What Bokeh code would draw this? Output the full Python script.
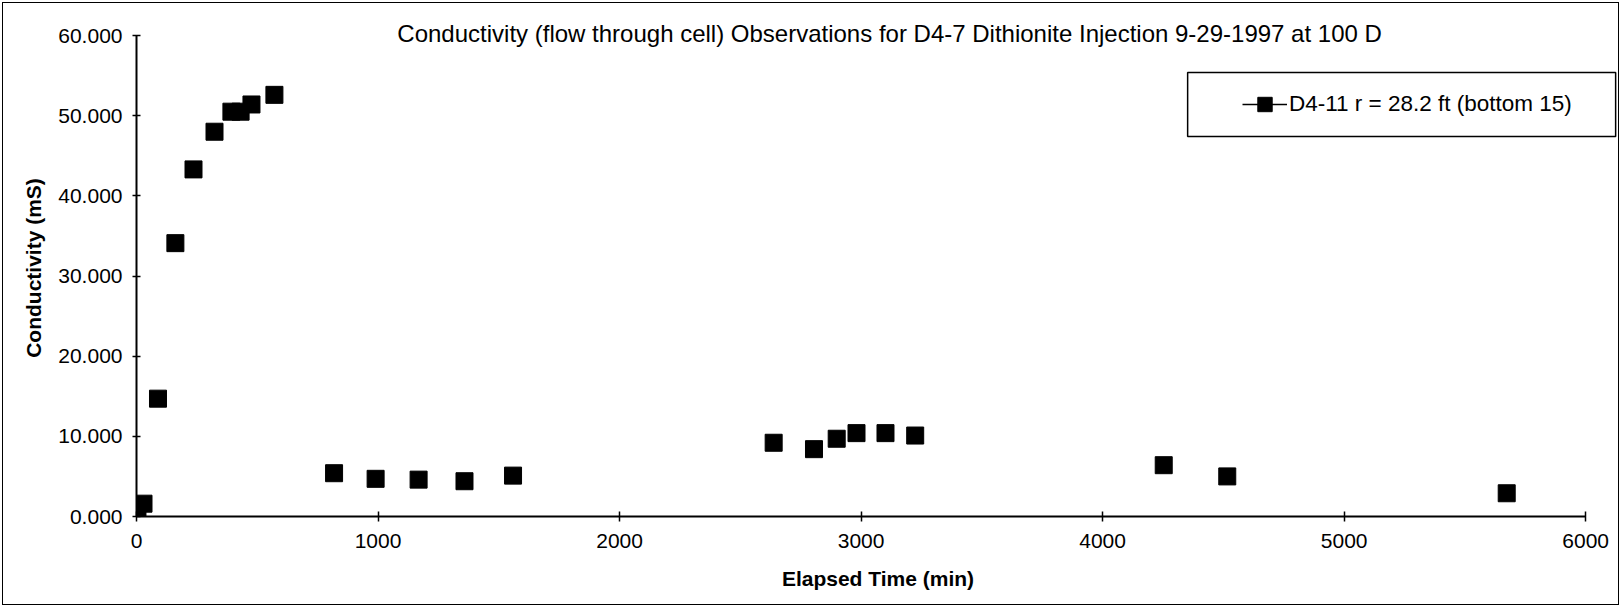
from bokeh.plotting import figure
from bokeh.models import (ColumnDataSource, CDSView, IndexFilter, Legend, LegendItem,
                          Label, NumeralTickFormatter, FixedTicker, Range1d, BoxAnnotation)
from bokeh.embed import file_html
from bokeh.resources import INLINE

title_text = "Conductivity (flow through cell) Observations for D4-7 Dithionite Injection 9-29-1997 at 100 D"
series_label = "D4-11 r = 28.2 ft (bottom 15)"
x_label = "Elapsed Time (min)"
y_label = "Conductivity (mS)"

elapsed_min = [4, 29, 89, 161, 236, 323, 393, 431, 476, 571,
               818, 990, 1168, 1358, 1559,
               2638, 2805, 2899, 2981, 3101, 3224,
               4253, 4516, 5673]
conductivity_ms = [0.5, 1.6, 14.7, 34.1, 43.3, 48.0, 50.5, 50.5, 51.4, 52.6,
                   5.4, 4.7, 4.6, 4.4, 5.1,
                   9.2, 8.4, 9.7, 10.4, 10.4, 10.1,
                   6.4, 5.0, 2.9]
x_ticks = [0, 1000, 2000, 3000, 4000, 5000, 6000]
y_ticks = [0, 10, 20, 30, 40, 50, 60]

FONT = "Liberation Sans"

src = ColumnDataSource(data=dict(t=elapsed_min, c=conductivity_ms))

# ranges extend a little past the last ticks so the title and legend are not clipped;
# the axis lines themselves stop at the last tick (bounds)
p = figure(frame_width=1483, frame_height=497,
           min_border_left=136, min_border_right=2,
           min_border_top=19, min_border_bottom=91,
           x_range=Range1d(x_ticks[0], 6140),
           y_range=Range1d(y_ticks[0], 62),
           output_backend="svg", toolbar_location=None)
p.outline_line_color = None
p.grid.visible = False
p.background_fill_color = None
p.border_fill_color = None
p.styles = {"outline": "1.5px solid black", "outline-offset": "-3px"}

for ax in (p.xaxis[0], p.yaxis[0]):
    ax.axis_line_color = "black"
    ax.axis_line_width = 2
    ax.major_tick_line_color = "black"
    ax.major_tick_line_width = 1.5
    ax.minor_tick_line_color = None
    ax.major_label_text_font = FONT
    ax.major_label_text_font_size = "21px"
    ax.major_label_text_color = "black"
    ax.axis_label_text_font = FONT
    ax.axis_label_text_font_size = "21px"
    ax.axis_label_text_font_style = "bold"
    ax.axis_label_text_color = "black"

p.xaxis.bounds = (x_ticks[0], x_ticks[-1])
p.yaxis.bounds = (y_ticks[0], y_ticks[-1])
p.xaxis.ticker = FixedTicker(ticks=x_ticks)
p.yaxis.ticker = FixedTicker(ticks=y_ticks)
p.yaxis.formatter = NumeralTickFormatter(format="0.000")
p.xaxis.formatter = NumeralTickFormatter(format="0")
p.xaxis.major_tick_in = 5
p.xaxis.major_tick_out = 5
p.yaxis.major_tick_in = 4
p.yaxis.major_tick_out = 4
p.xaxis.major_label_standoff = 12
p.yaxis.major_label_standoff = 10
p.xaxis.axis_label = x_label
p.yaxis.axis_label = y_label
p.xaxis.axis_label_standoff = 16
p.yaxis.axis_label_standoff = 10

# legend frame (drawn separately so it can be wider than the legend's own padding allows)
p.add_layout(BoxAnnotation(left=4352, right=6124, top=55.4, bottom=47.4,
                           fill_color="white", fill_alpha=1.0,
                           line_color="black", line_width=1.5, line_alpha=1.0))

# legend-only line renderer (a single point: nothing visible is drawn on the plot)
line_r = p.line("t", "c", source=src, view=CDSView(filter=IndexFilter(indices=[0])),
                line_color="black", line_width=1.5)
pts = p.scatter("t", "c", source=src, marker="square", size=17,
                fill_color="black", line_color="black")

legend = Legend(items=[LegendItem(label=series_label, renderers=[line_r, pts])],
                location=(1092, 380),
                padding=14, glyph_width=45, glyph_height=36, label_standoff=2,
                label_text_font=FONT, label_text_font_size="22.5px",
                label_text_color="black",
                border_line_alpha=0, background_fill_alpha=0,
                margin=0)
p.add_layout(legend, "center")

p.add_layout(Label(x=3118, y=60.3, text=title_text, text_align="center",
                   text_baseline="middle", text_font=FONT,
                   text_font_size="24px", text_color="black"))

open("out.html", "w").write(file_html(p, INLINE))
